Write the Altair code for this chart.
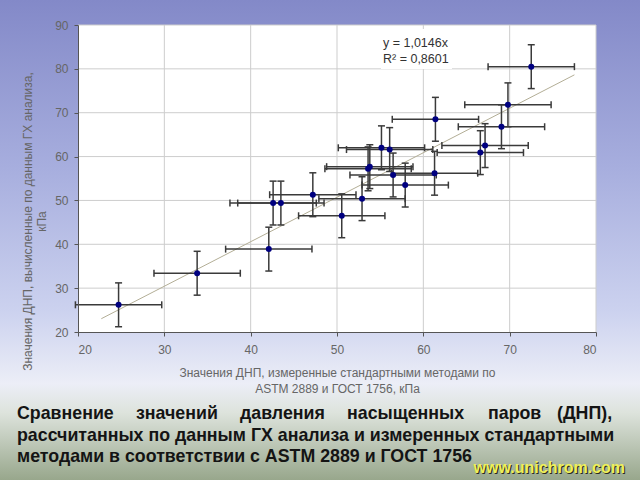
import altair as alt
import pandas as pd

# ---- data ----
xs = [24.7, 33.8, 42.1, 42.6, 43.5, 47.2, 50.55, 52.9, 53.6, 53.8, 55.15,
      56.1, 56.5, 57.9, 61.3, 61.4, 66.6, 67.15, 69.05, 69.8, 72.5]
ys = [26.2, 33.4, 38.9, 49.4, 49.4, 51.3, 46.5, 50.4, 57.2, 57.7, 62.0,
      61.6, 55.8, 53.5, 56.2, 68.5, 60.9, 62.5, 66.8, 71.8, 80.5]
x_err = [5.0, 5.0, 5.0, 5.0, 5.0, 5.0, 5.0, 5.0, 5.0, 5.0, 5.0,
         5.0, 5.0, 5.0, 5.0, 5.0, 5.0, 5.0, 5.0, 5.0, 5.0]
y_err = [5.0, 5.0, 5.0, 5.0, 5.0, 5.0, 5.0, 5.0, 5.0, 5.0, 5.0,
         5.0, 5.0, 5.0, 5.0, 5.0, 5.0, 5.0, 5.0, 5.0, 5.0]
slope = 1.0146
trend_x = [22.7, 77.5]
x_ticks = [20, 30, 40, 50, 60, 70, 80]
y_ticks = [20, 30, 40, 50, 60, 70, 80, 90]
eq_lines = ["y = 1,0146x", "R² = 0,8601"]
x_title = ["Значения ДНП, измеренные стандартными методами по",
           "ASTM 2889 и ГОСТ 1756, кПа"]
y_title = ["Значения ДНП, вычисленные по данным ГХ анализа,", "кПа"]
caption_line1 = ["Сравнение", "значений", "давления", "насыщенных", "паров", "(ДНП),"]
caption_line2 = "рассчитанных по данным ГХ анализа и измеренных стандартными"
caption_line3 = "методами в соответствии с ASTM 2889 и ГОСТ 1756"
site = "www.unichrom.com"

W, H = 518, 307
FONT = "Liberation Sans"

df = pd.DataFrame({"x": xs, "y": ys, "xe": x_err, "ye": y_err})
df["xlo"] = df.x - df.xe
df["xhi"] = df.x + df.xe
df["ylo"] = df.y - df.ye
df["yhi"] = df.y + df.ye

capsv = pd.concat([pd.DataFrame({"cx": df.xlo, "cy": df.y}),
                   pd.DataFrame({"cx": df.xhi, "cy": df.y})])
capsh = pd.concat([pd.DataFrame({"cx": df.x, "cy": df.ylo}),
                   pd.DataFrame({"cx": df.x, "cy": df.yhi})])
trend = pd.DataFrame({"x": trend_x, "y": [slope * v for v in trend_x]})
gx = pd.DataFrame({"v": x_ticks[1:]})
gy = pd.DataFrame({"v": y_ticks[1:]})
one = pd.DataFrame({"a": [0]})

xscale = alt.Scale(domain=[20, 80], nice=False, zero=False)
yscale = alt.Scale(domain=[20, 90], nice=False, zero=False)

x_axis = alt.Axis(values=x_ticks, grid=False, zindex=1, domainColor="#555",
                  tickColor="#555", tickSize=4, labelColor="#666",
                  labelFontSize=12, labelFont=FONT, labelPadding=8,
                  title=x_title, titleFont=FONT, titleFontSize=12,
                  titleFontWeight="normal", titleColor="#666",
                  titleY=35, titleBaseline="top", titleLineHeight=16)
y_axis = alt.Axis(values=y_ticks, grid=False, zindex=1, domainColor="#555",
                  tickColor="#555", tickSize=4, labelColor="#666",
                  labelFontSize=12, labelFont=FONT, labelPadding=6,
                  title=y_title, titleFont=FONT, titleFontSize=12,
                  titleFontWeight="normal", titleColor="#666",
                  titleX=-56, titleY=196, titleBaseline="top",
                  titleAlign="center", titleAngle=270, titleLineHeight=14)


def X(f):
    return alt.X(f, type="quantitative", scale=xscale, axis=x_axis)


def Y(f):
    return alt.Y(f, type="quantitative", scale=yscale, axis=y_axis)


grad = alt.LinearGradient(
    gradient="linear", x1=0, x2=0, y1=0, y2=1,
    stops=[alt.GradientStop(offset=0.0, color="#8389c8"),
           alt.GradientStop(offset=0.35, color="#a7aede"),
           alt.GradientStop(offset=0.65, color="#ccd2ef"),
           alt.GradientStop(offset=0.80, color="#eceef7"),
           alt.GradientStop(offset=0.86, color="#dde3dc"),
           alt.GradientStop(offset=1.0, color="#98a78c")])

bg = alt.Chart(one).mark_rect(color=grad).encode(
    x=alt.value(-78), x2=alt.value(562), y=alt.value(-25), y2=alt.value(455))
plotbg = alt.Chart(one).mark_rect(color="white").encode(
    x=alt.value(0), x2=alt.value(W), y=alt.value(0), y2=alt.value(H))

gridx = alt.Chart(gx).mark_rule(color="#cdcdcd", strokeWidth=1).encode(x=X("v"))
gridy = alt.Chart(gy).mark_rule(color="#cdcdcd", strokeWidth=1).encode(y=Y("v"))

eqbox = alt.Chart(one).mark_rect(color="white").encode(
    x=alt.value(303), x2=alt.value(374), y=alt.value(4), y2=alt.value(44))
eq1 = alt.Chart(one).mark_text(align="left", baseline="middle", font=FONT,
                               fontSize=12.5, color="#333").encode(
    x=alt.value(305), y=alt.value(18), text=alt.value(eq_lines[0]))
eq2 = alt.Chart(one).mark_text(align="left", baseline="middle", font=FONT,
                               fontSize=12.5, color="#333").encode(
    x=alt.value(305), y=alt.value(34), text=alt.value(eq_lines[1]))

tline = alt.Chart(trend).mark_line(color="#b3ae96", strokeWidth=1).encode(
    x=X("x"), y=Y("y"))

ebx = alt.Chart(df).mark_rule(color="#3a3a3a", strokeWidth=1.5).encode(
    x=X("xlo"), x2="xhi", y=Y("y"))
eby = alt.Chart(df).mark_rule(color="#3a3a3a", strokeWidth=1.5).encode(
    x=X("x"), y=Y("ylo"), y2="yhi")
cv = alt.Chart(capsv).mark_tick(orient="vertical", size=7, thickness=1.5,
                                color="#3a3a3a", opacity=1).encode(
    x=X("cx"), y=Y("cy"))
ch = alt.Chart(capsh).mark_tick(orient="horizontal", size=7, thickness=1.5,
                                color="#3a3a3a", opacity=1).encode(
    x=X("cx"), y=Y("cy"))
pts = alt.Chart(df).mark_circle(size=36, color="#000080", opacity=1).encode(
    x=X("x"), y=Y("y"))

cap_style = dict(align="left", baseline="middle", font=FONT, fontSize=17.8,
                 fontWeight="bold", color="#141414")
word_x = [-61, 58, 162, 269, 410, 479]
cap_layers = []
for w, px in zip(caption_line1, word_x):
    cap_layers.append(alt.Chart(one).mark_text(**cap_style).encode(
        x=alt.value(px), y=alt.value(389), text=alt.value(w)))
cap_layers.append(alt.Chart(one).mark_text(**cap_style).encode(
    x=alt.value(-61), y=alt.value(411), text=alt.value(caption_line2)))
cap_layers.append(alt.Chart(one).mark_text(**cap_style).encode(
    x=alt.value(-61), y=alt.value(432), text=alt.value(caption_line3)))

site_shadow = alt.Chart(one).mark_text(align="right", baseline="middle", font=FONT,
                                       fontSize=16, fontWeight="bold",
                                       color="#2a2a20").encode(
    x=alt.value(548), y=alt.value(444), text=alt.value(site))
site_text = alt.Chart(one).mark_text(align="right", baseline="middle", font=FONT,
                                     fontSize=16, fontWeight="bold",
                                     color="#eef05a").encode(
    x=alt.value(547), y=alt.value(443), text=alt.value(site))

chart = alt.layer(
    bg, plotbg, gridx, gridy, eqbox, eq1, eq2, tline, ebx, eby, cv, ch, pts,
    *cap_layers, site_shadow, site_text
).properties(
    width=W, height=H,
    autosize=alt.AutoSizeParams(type="none"),
    padding={"left": 78, "top": 25, "right": 44, "bottom": 148},
).configure_view(stroke=None)

chart.save("out.html", embed_options={"renderer": "svg", "actions": False})
